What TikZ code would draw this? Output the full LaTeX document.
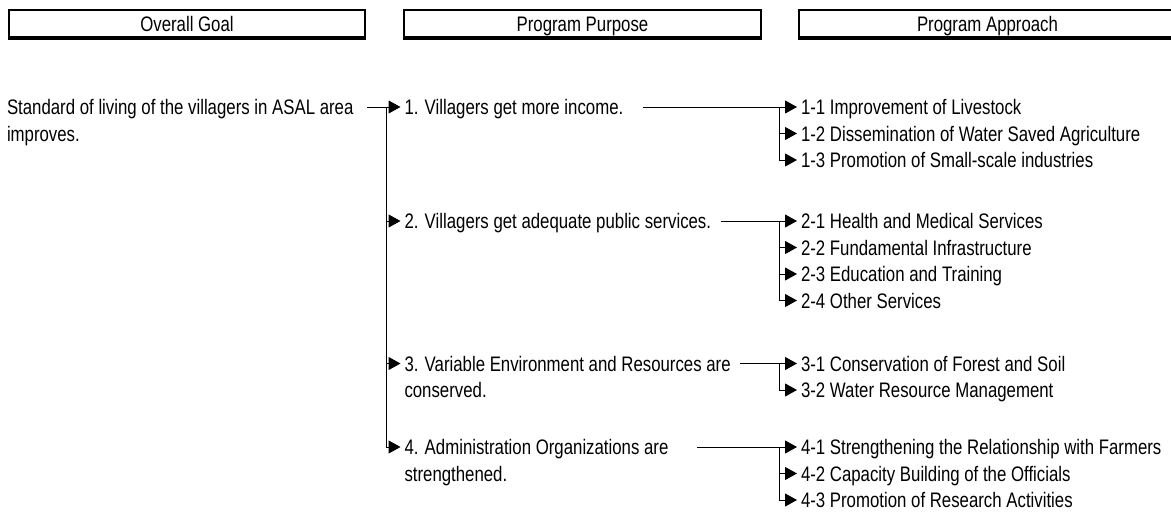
\documentclass[tikz,border=0pt]{standalone}
\usepackage{fontspec}
\setmainfont{Liberation Sans}[FakeStretch=0.8]
\usetikzlibrary{arrows.meta}
\begin{document}
\begin{tikzpicture}[x=1pt,y=-1pt,
  txt/.style={font=\fontsize{21pt}{26.5pt}\selectfont, inner sep=0pt, outer sep=0pt, text height=15pt, text depth=0pt, anchor=west},
  hdr/.style={draw, line width=2pt, inner sep=0pt, minimum height=27pt, font=\fontsize{21pt}{24pt}\selectfont, text height=15pt, text depth=0pt},
  conn/.style={line width=1pt},
  arr/.style={conn, -{Triangle[length=12pt,width=13pt]}, shorten >=4pt}
]
\useasboundingbox (0,0) rectangle (1171,517);
% headers
\node[hdr, minimum width=356pt] (h1) at (187,23.5) {Overall Goal};
\node[hdr, minimum width=357pt] (h2) at (582.5,23.5) {Program Purpose};
\node[hdr, minimum width=377pt] (h3) at (987.5,23.5) {Program Approach};
\foreach \h in {h1,h2,h3}{\draw[line width=3pt] (\h.south west) -- (\h.south east);}
% goal
\node[txt] (g) at (7,107) {Standard of living of the villagers in ASAL area};
\node[txt] (gx) at (7,133.5) {improves.};
% purposes
\node[txt] (p1) at (404.5,107) {1. Villagers get more income.};
\node[txt] (p2) at (404.5,221) {2. Villagers get adequate public services.};
\node[txt] (p3) at (404.5,363.5) {3. Variable Environment and Resources are};
\node[txt] (p3x) at (404.5,390) {conserved.};
\node[txt] (p4) at (404.5,447) {4. Administration Organizations are};
\node[txt] (p4x) at (404.5,473.5) {strengthened.};
% approaches
\node[txt] (a11) at (801,107) {1-1 Improvement of Livestock};
\node[txt] (a12) at (801,133.5) {1-2 Dissemination of Water Saved Agriculture};
\node[txt] (a13) at (801,160) {1-3 Promotion of Small-scale industries};
\node[txt] (a21) at (801,221) {2-1 Health and Medical Services};
\node[txt] (a22) at (801,247.5) {2-2 Fundamental Infrastructure};
\node[txt] (a23) at (801,274) {2-3 Education and Training};
\node[txt] (a24) at (801,300.5) {2-4 Other Services};
\node[txt] (a31) at (801,363.5) {3-1 Conservation of Forest and Soil};
\node[txt] (a32) at (801,390) {3-2 Water Resource Management};
\node[txt] (a41) at (801,447) {4-1 Strengthening the Relationship with Farmers};
\node[txt] (a42) at (801,473.5) {4-2 Capacity Building of the Officials};
\node[txt] (a43) at (801,500) {4-3 Promotion of Research Activities};
% coordinates
\coordinate (gS) at (367,107);
\coordinate (tP) at (386,107);
\coordinate (c1) at (643,107);
\coordinate (c2) at (721,221);
\coordinate (c3) at (740,363.5);
\coordinate (c4) at (697,447);
\coordinate (t1) at (779,107);
\coordinate (t2) at (779,221);
\coordinate (t3) at (779,363.5);
\coordinate (t4) at (779,447);
% goal -> purposes
\draw[arr] (gS) -- (p1.west);
\draw[arr] (tP) |- (p2.west);
\draw[arr] (tP) |- (p3.west);
\draw[arr] (tP) |- (p4.west);
% purposes -> approaches
\draw[arr] (c1) -- (a11.west);
\draw[arr] (t1) |- (a12.west);
\draw[arr] (t1) |- (a13.west);
\draw[arr] (c2) -- (a21.west);
\draw[arr] (t2) |- (a22.west);
\draw[arr] (t2) |- (a23.west);
\draw[arr] (t2) |- (a24.west);
\draw[arr] (c3) -- (a31.west);
\draw[arr] (t3) |- (a32.west);
\draw[arr] (c4) -- (a41.west);
\draw[arr] (t4) |- (a42.west);
\draw[arr] (t4) |- (a43.west);
\end{tikzpicture}
\end{document}
